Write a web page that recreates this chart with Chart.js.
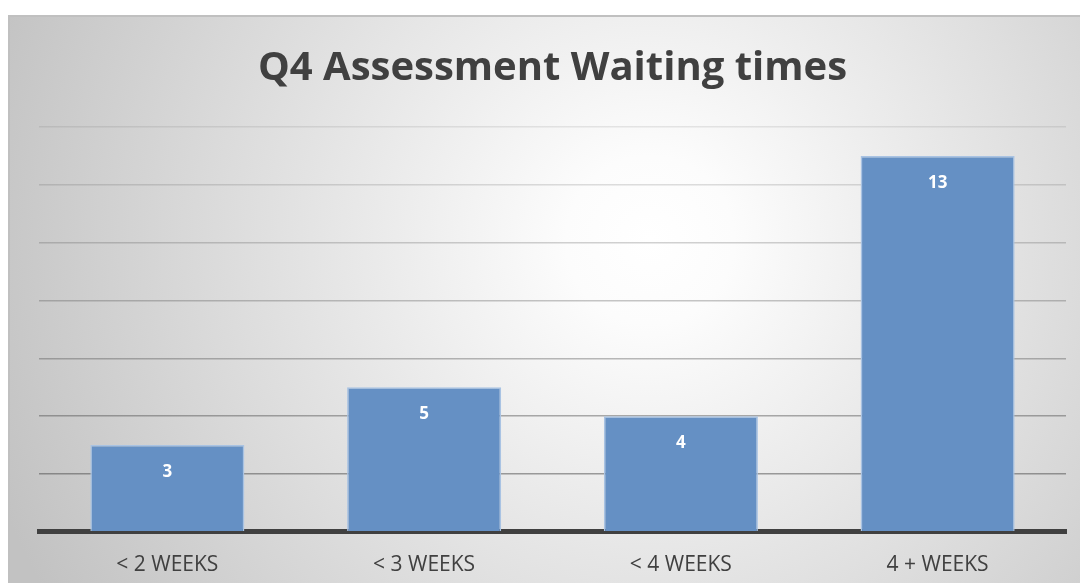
<!DOCTYPE html>
<html>
<head>
<meta charset="utf-8">
<script src="https://cdn.jsdelivr.net/npm/chart.js@4"></script>
<style>
  html, body { margin: 0; padding: 0; background: #fff; }
  #wrap { width: 1080px; height: 583px; }
</style>
</head>
<body>
<div id="wrap"><canvas id="chart" width="1080" height="583"></canvas></div>
<script>
// Chart data
const categories = ['< 2 WEEKS', '< 3 WEEKS', '< 4 WEEKS', '4 + WEEKS'];
const waitCounts = [3, 5, 4, 13];
const chartTitle = 'Q4 Assessment Waiting times';

// Soft radial background and frame, like the office-style chart
const backdrop = {
  id: 'backdrop',
  beforeDraw(chart) {
    const ctx = chart.ctx;
    ctx.save();
    ctx.fillStyle = '#ffffff';
    ctx.fillRect(0, 0, chart.width, chart.height);
    const g = ctx.createRadialGradient(650, 240, 0, 650, 240, 700);
    g.addColorStop(0, '#ffffff');
    g.addColorStop(0.12, '#fcfcfc');
    g.addColorStop(1, '#c2c2c2');
    ctx.fillStyle = g;
    ctx.fillRect(9, 16, chart.width - 9, chart.height - 16);
    ctx.strokeStyle = '#c0c0c0';
    ctx.lineWidth = 2;
    ctx.beginPath();
    ctx.moveTo(9, chart.height);
    ctx.lineTo(9, 16);
    ctx.lineTo(chart.width, 16);
    ctx.stroke();
    ctx.restore();
  }
};

// Value labels drawn inside the bar tops
const barValues = {
  id: 'barValues',
  afterDatasetsDraw(chart) {
    const ctx = chart.ctx;
    const meta = chart.getDatasetMeta(0);
    ctx.save();
    ctx.fillStyle = '#ffffff';
    ctx.font = 'bold 17px "Open Sans", sans-serif';
    ctx.textAlign = 'center';
    ctx.textBaseline = 'middle';
    meta.data.forEach((bar, i) => {
      ctx.fillText(String(waitCounts[i]), bar.x, bar.y + 27);
    });
    ctx.restore();
  }
};

new Chart(document.getElementById('chart'), {
  type: 'bar',
  data: {
    labels: categories,
    datasets: [{
      data: waitCounts,
      backgroundColor: '#6590c4',
      borderColor: '#a9c3e3',
      borderWidth: 1.5,
      barPercentage: 0.6,
      categoryPercentage: 1
    }]
  },
  options: {
    responsive: false,
    animation: false,
    layout: { padding: { left: 39, right: 14, top: 0, bottom: -8 } },
    plugins: {
      legend: { display: false },
      tooltip: { enabled: false },
      title: {
        display: true,
        text: chartTitle,
        color: '#404040',
        font: { family: '"Open Sans", sans-serif', size: 40, weight: 'bold' },
        padding: { top: 45, bottom: 34 }
      }
    },
    scales: {
      x: {
        grid: { display: false },
        border: { display: true, color: '#404040', width: 5 },
        ticks: {
          color: '#404040',
          font: { family: '"Open Sans", sans-serif', size: 21 },
          padding: 13
        }
      },
      y: {
        min: 0,
        max: 14,
        ticks: { display: false, stepSize: 2 },
        border: { display: false },
        grid: {
          drawTicks: false,
          lineWidth: 1.5,
          color: ctx => {
            const v = ctx.tick ? ctx.tick.value : 0;
            if (v === 0) return 'rgba(0,0,0,0)';
            const a = 0.12 + (14 - v) / 12 * 0.38;
            return `rgba(70,70,70,${a.toFixed(2)})`;
          }
        }
      }
    }
  },
  plugins: [backdrop, barValues]
});
</script>
</body>
</html>
